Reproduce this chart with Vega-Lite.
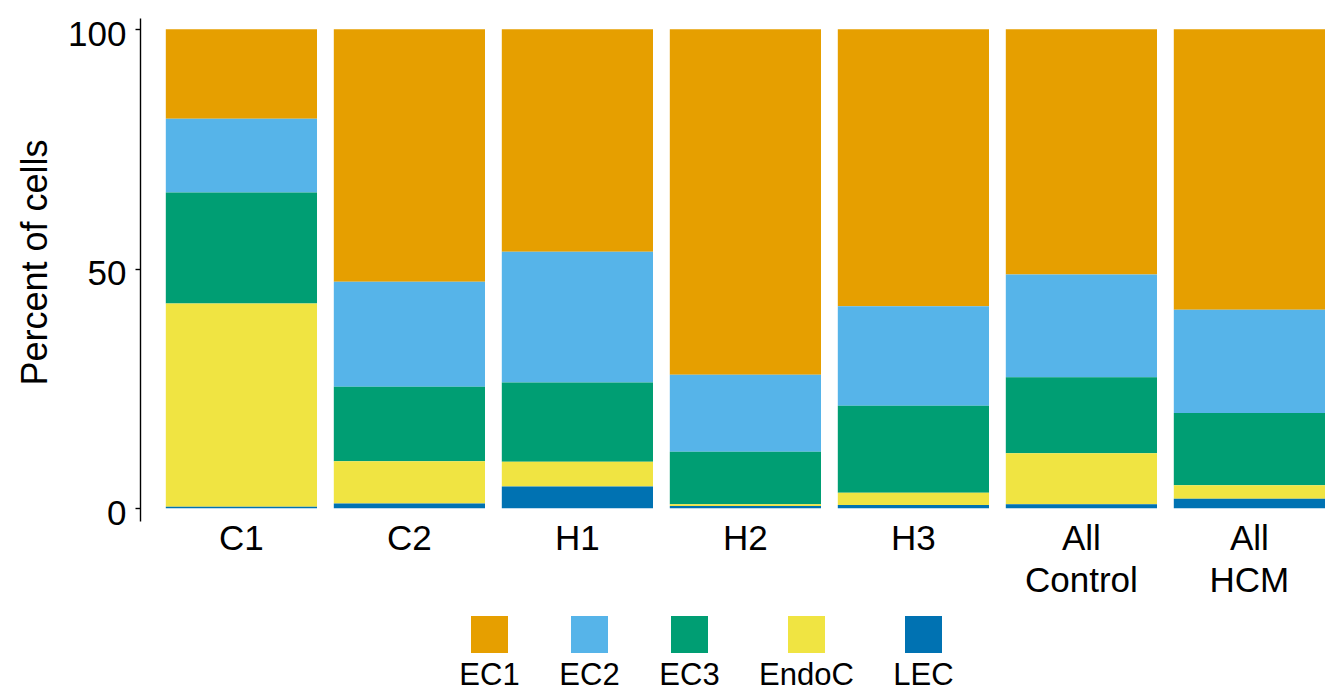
{
  "$schema": "https://vega.github.io/schema/vega-lite/v6.json",
  "autosize": {"type": "none"},
  "padding": {"left": 140, "top": 18, "right": 0, "bottom": 170},
  "width": 1185,
  "height": 503,
  "background": "white",
  "config": {
    "view": {"stroke": null},
    "font": "Liberation Sans"
  },
  "data": {
    "values": [
      {"sample": "C1", "cluster": "EC1", "percent": 18.67},
      {"sample": "C1", "cluster": "EC2", "percent": 15.43},
      {"sample": "C1", "cluster": "EC3", "percent": 23.15},
      {"sample": "C1", "cluster": "EndoC", "percent": 42.40},
      {"sample": "C1", "cluster": "LEC", "percent": 0.35},
      {"sample": "C2", "cluster": "EC1", "percent": 52.72},
      {"sample": "C2", "cluster": "EC2", "percent": 21.90},
      {"sample": "C2", "cluster": "EC3", "percent": 15.58},
      {"sample": "C2", "cluster": "EndoC", "percent": 8.82},
      {"sample": "C2", "cluster": "LEC", "percent": 0.98},
      {"sample": "H1", "cluster": "EC1", "percent": 46.46},
      {"sample": "H1", "cluster": "EC2", "percent": 27.26},
      {"sample": "H1", "cluster": "EC3", "percent": 16.54},
      {"sample": "H1", "cluster": "EndoC", "percent": 5.21},
      {"sample": "H1", "cluster": "LEC", "percent": 4.53},
      {"sample": "H2", "cluster": "EC1", "percent": 72.12},
      {"sample": "H2", "cluster": "EC2", "percent": 16.06},
      {"sample": "H2", "cluster": "EC3", "percent": 10.99},
      {"sample": "H2", "cluster": "EndoC", "percent": 0.35},
      {"sample": "H2", "cluster": "LEC", "percent": 0.48},
      {"sample": "H3", "cluster": "EC1", "percent": 57.81},
      {"sample": "H3", "cluster": "EC2", "percent": 20.77},
      {"sample": "H3", "cluster": "EC3", "percent": 18.19},
      {"sample": "H3", "cluster": "EndoC", "percent": 2.54},
      {"sample": "H3", "cluster": "LEC", "percent": 0.69},
      {"sample": "All Control", "cluster": "EC1", "percent": 51.20},
      {"sample": "All Control", "cluster": "EC2", "percent": 21.42},
      {"sample": "All Control", "cluster": "EC3", "percent": 15.91},
      {"sample": "All Control", "cluster": "EndoC", "percent": 10.64},
      {"sample": "All Control", "cluster": "LEC", "percent": 0.83},
      {"sample": "All HCM", "cluster": "EC1", "percent": 58.56},
      {"sample": "All HCM", "cluster": "EC2", "percent": 21.57},
      {"sample": "All HCM", "cluster": "EC3", "percent": 15.07},
      {"sample": "All HCM", "cluster": "EndoC", "percent": 2.78},
      {"sample": "All HCM", "cluster": "LEC", "percent": 2.02}
    ]
  },
  "mark": {"type": "bar", "strokeWidth": 0},
  "encoding": {
    "x": {
      "field": "sample",
      "type": "nominal",
      "sort": ["C1", "C2", "H1", "H2", "H3", "All Control", "All HCM"],
      "scale": {"paddingInner": 0.1, "paddingOuter": 0.0768, "align": 1},
      "axis": {
        "title": null,
        "domain": false,
        "ticks": false,
        "tickSize": 0,
        "labelAngle": 0,
        "labelFontSize": 35,
        "labelColor": "black",
        "labelBaseline": "alphabetic",
        "labelPadding": 28,
        "labelLineHeight": 42,
        "labelExpr": "split(datum.label, ' ')"
      }
    },
    "y": {
      "field": "percent",
      "type": "quantitative",
      "stack": "zero",
      "scale": {"domain": [-2.65, 102.35], "nice": false, "zero": false},
      "axis": {
        "title": "Percent of cells",
        "titleFontSize": 36,
        "titleFontWeight": "normal",
        "titleColor": "black",
        "titleAngle": -90,
        "titleAlign": "center",
        "titleBaseline": "alphabetic",
        "titleX": -94,
        "titleY": 244,
        "values": [0, 50, 100],
        "grid": false,
        "domainColor": "black",
        "domainWidth": 1.4,
        "tickColor": "black",
        "tickWidth": 1.4,
        "tickSize": 5,
        "labelFontSize": 35,
        "labelColor": "black",
        "labelPadding": 9,
        "labelBaseline": "alphabetic",
        "labelOffset": 16
      }
    },
    "color": {
      "field": "cluster",
      "type": "nominal",
      "scale": {
        "domain": ["EC1", "EC2", "EC3", "EndoC", "LEC"],
        "range": ["#E69F00", "#56B4E9", "#009E73", "#F0E442", "#0072B2"]
      },
      "legend": {
        "title": null,
        "orient": "none",
        "legendX": 331,
        "legendY": 598,
        "direction": "horizontal",
        "columns": 5,
        "gridAlign": "none",
        "columnPadding": 39,
        "padding": 0,
        "symbolType": "square",
        "symbolSize": 1369,
        "symbolStrokeWidth": 0,
        "symbolOpacity": 1,
        "labelFontSize": 31,
        "labelColor": "black",
        "labelAlign": "center",
        "labelBaseline": "alphabetic",
        "labelOffset": -18.5,
        "labelLimit": 300,
        "encode": {
          "labels": {"update": {"dy": {"value": 50}}}
        }
      }
    },
    "order": {"field": "cluster", "sort": "descending"}
  }
}
